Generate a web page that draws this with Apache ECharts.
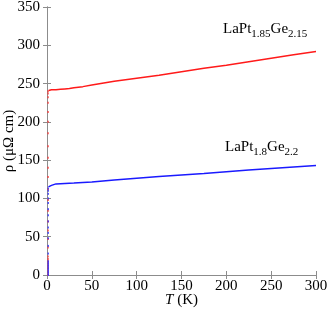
<!DOCTYPE html>
<html><head><meta charset="utf-8">
<script src="https://cdn.jsdelivr.net/npm/echarts@6/dist/echarts.min.js"></script>
<style>html,body{margin:0;padding:0;background:#fff}#c{width:327px;height:313px}</style>
</head><body><div id="c"></div>
<script>
const xTicks = [0, 50, 100, 150, 200, 250, 300];
const yTicks = [0, 50, 100, 150, 200, 250, 300, 350];
const redCurve = [[1.8,241],[3,242],[5,242],[10,242],[15,242.5],[20,243],[25,243.5],[30,244.5],[40,246],[50,248],[60,250],[75,253],[100,257],[125,261],[150,265.5],[175,270],[200,274],[225,278.5],[250,283],[275,287.5],[300,292]];
const blueCurve = [[1.6,115],[3,116],[5,117],[6,118],[7,119],[10,119],[20,119.5],[30,120],[50,121.5],[75,124],[100,126.5],[125,128.5],[150,130.5],[175,132.5],[200,135],[225,137],[250,139],[275,141],[300,143]];
const redDrop = [[1.2,0],[1.2,3],[1.2,6],[1.2,9],[1.2,12],[1.2,15],[1.2,18],[1.2,21],[1.2,24],[1.2,36],[1.2,47],[1.2,58],[1.2,70],[1.2,84],[1.2,98],[1.2,112],[1.2,128],[1.2,140],[1.2,153],[1.2,168],[1.2,185],[1.2,200],[1.2,213],[1.2,225],[1.2,232],[1.2,237],[1.2,240]];
const blueDrop = [[1.4,0],[1.4,2],[1.4,4],[1.4,6],[1.4,8],[1.4,10],[1.4,12],[1.4,14],[1.4,16],[1.4,18],[1.4,28],[1.4,38],[1.4,48],[1.4,55],[1.4,62],[1.4,70],[1.4,78],[1.4,86],[1.4,94],[1.4,100],[1.4,106],[1.4,110],[1.4,113]];
const label1 = {base:'LaPt', s1:'1.85', mid:'Ge', s2:'2.15'};
const label2 = {base:'LaPt', s1:'1.8', mid:'Ge', s2:'2.2'};

const font = 'Liberation Serif';
const axisCol = '#8c8c8c';
const chart = echarts.init(document.getElementById('c'));
function richLbl(l){ return '{a|'+l.base+'}{s|'+l.s1+'}{a|'+l.mid+'}{s|'+l.s2+'}'; }
const rich = {a:{fontFamily:font,fontSize:15,color:'#000'}, s:{fontFamily:font,fontSize:11,color:'#000',padding:[10,0,0,0]}};
const vRich = {v:{fontFamily:font,fontSize:15,color:'#000'}};
const baseAxis = {
  axisLine:{show:true,lineStyle:{color:axisCol,width:1}},
  axisTick:{show:true,inside:true,length:4,lineStyle:{color:axisCol}},
  splitLine:{show:false}
};
chart.setOption({
  animation:false,
  textStyle:{fontFamily:font,fontSize:15,color:'#000'},
  grid:{left:47,right:11,top:7,bottom:38,outerBoundsMode:'none',containLabel:false},
  xAxis:[
    Object.assign({type:'value',min:0,max:300,interval:50,position:'bottom',
      name:'{i|T} {n|(K)}',nameLocation:'middle',nameGap:18,nameMoveOverlap:false,
      nameTextStyle:{rich:{i:{fontFamily:font,fontStyle:'italic',fontSize:15,color:'#000'},n:{fontFamily:font,fontSize:15,color:'#000'}}},
      axisLabel:{margin:4,formatter:v=>'{v|'+v+'}',rich:vRich}},baseAxis),
    Object.assign({type:'value',min:0,max:300,interval:50,position:'top',axisLabel:{show:false}},baseAxis)
  ],
  yAxis:[
    Object.assign({type:'value',min:0,max:350,interval:50,position:'left',
      name:'{n|ρ (μΩ cm)}',nameLocation:'middle',nameGap:30,nameRotate:90,nameMoveOverlap:false,
      nameTextStyle:{rich:{n:{fontFamily:font,fontSize:15,color:'#000'}}},
      axisLabel:{margin:7,formatter:v=>'{v|'+v+'}',rich:vRich}},baseAxis),
    Object.assign({type:'value',min:0,max:350,interval:50,position:'right',axisLabel:{show:false}},baseAxis)
  ],
  graphic:[
    {type:'text',left:223,top:22,style:{text:richLbl(label1),rich:rich}},
    {type:'text',left:225,top:140,style:{text:richLbl(label2),rich:rich}}
  ],
  series:[
    {type:'line',data:redCurve,showSymbol:false,lineStyle:{color:'#ff1a1a',width:1.5},z:3},
    {type:'line',data:blueCurve,showSymbol:false,lineStyle:{color:'#1a1aff',width:1.5},z:3},
    {type:'scatter',data:redDrop,symbol:'rect',symbolSize:[1.5,2],itemStyle:{color:'#ff3030'},z:2},
    {type:'scatter',data:blueDrop,symbol:'rect',symbolSize:[1.5,2],itemStyle:{color:'#3030ff'},z:2}
  ]
});
</script></body></html>
